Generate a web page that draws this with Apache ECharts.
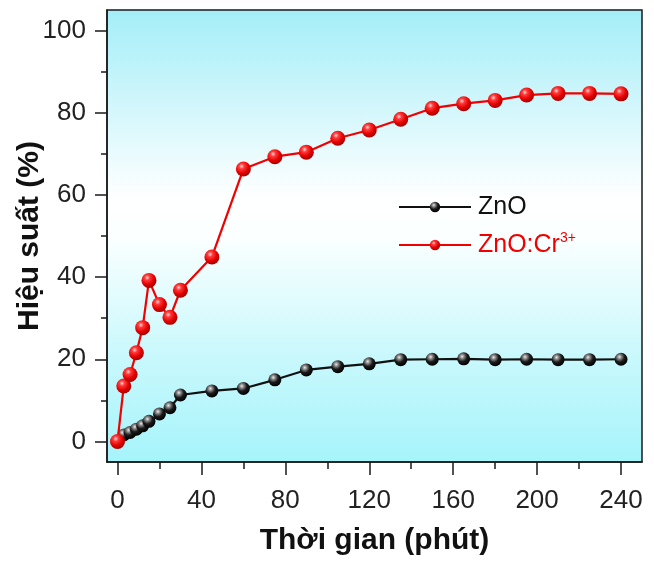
<!DOCTYPE html>
<html>
<head>
<meta charset="utf-8">
<script src="https://cdn.jsdelivr.net/npm/echarts@6/dist/echarts.min.js"></script>
<style>html,body{margin:0;padding:0;background:#fff;}#c{width:654px;height:565px;}</style>
</head>
<body>
<div id="c"></div>
<script>
// Time (min)
const times = [0, 3, 6, 9, 12, 15, 20, 25, 30, 45, 60, 75, 90, 105, 120, 135, 150, 165, 180, 195, 210, 225, 240];
// Efficiency (%)
const zno   = [0, 1.6, 2.2, 3.0, 3.8, 4.9, 6.7, 8.2, 11.3, 12.3, 12.9, 15.0, 17.4, 18.2, 18.9, 19.9, 20.0, 20.1, 19.9, 20.0, 19.9, 19.9, 20.0];
const zncr  = [0, 13.5, 16.3, 21.6, 27.7, 39.2, 33.3, 30.2, 36.8, 44.9, 66.3, 69.3, 70.4, 73.8, 75.8, 78.4, 81.1, 82.2, 83.0, 84.3, 84.7, 84.7, 84.6];
const xLabels = [0, 40, 80, 120, 160, 200, 240];
const xMinor  = [20, 60, 100, 140, 180, 220];
const yLabels = [0, 20, 40, 60, 80, 100];
const yMinor  = [10, 30, 50, 70, 90];
const seriesNames = ['ZnO', 'ZnO:Cr3+'];

const pairs = (ys) => times.map((t, i) => [t, ys[i]]);
const FONT = 'Liberation Sans, Arial, sans-serif';

const blackBall = {type:'radial', x:0.38, y:0.32, r:0.7, colorStops:[
  {offset:0, color:'#f4e8ee'}, {offset:0.22, color:'#8a8a8a'}, {offset:0.55, color:'#1a1a1a'}, {offset:1, color:'#000'}]};
const redBall = {type:'radial', x:0.38, y:0.32, r:0.7, colorStops:[
  {offset:0, color:'#ffd6d6'}, {offset:0.25, color:'#ff3a3a'}, {offset:0.65, color:'#e40000'}, {offset:1, color:'#a00000'}]};

const chart = echarts.init(document.getElementById('c'), null, {renderer:'canvas'});
const baseX = {type:'value', min:-5, max:250, gridIndex:0, splitLine:{show:false}};
const baseY = {type:'value', min:-5, max:105, gridIndex:0, splitLine:{show:false}};
chart.setOption({
  animation:false,
  backgroundColor:'#fff',
  grid:{left:107, right:12, top:10, bottom:103, containLabel:false, outerBoundsMode:'none',
    show:true, borderColor:'#1a1a1a', borderWidth:1.5,
    backgroundColor:{type:'linear', x:0, y:0, x2:0, y2:1, colorStops:[
      {offset:0, color:'#a3eef8'}, {offset:0.42, color:'#ffffff'}, {offset:0.5, color:'#fbffff'}, {offset:0.78, color:'#c6f8fc'}, {offset:1, color:'#a6f4fb'}]}},
  legend:{orient:'vertical', left:393, top:188, itemWidth:72, itemHeight:13, itemGap:10,
    data:[{name:seriesNames[0], textStyle:{color:'#111'}}, {name:seriesNames[1], textStyle:{color:'#f00000'}}],
    textStyle:{fontFamily:FONT, fontSize:25, lineHeight:28, padding:[0,0,0,2],
      rich:{sup:{fontFamily:FONT, fontSize:14, verticalAlign:'top', lineHeight:28, padding:[0,0,14,0]}}},
    formatter: (n) => n === 'ZnO:Cr3+' ? 'ZnO:Cr{sup|3+}' : n},
  xAxis:[
    Object.assign({}, baseX, {position:'bottom',
      name:'Thời gian (phút)', nameLocation:'middle', nameGap:64, nameMoveOverlap:false,
      nameTextStyle:{fontFamily:FONT, fontWeight:'bold', fontSize:30, color:'#111'},
      axisLine:{show:true, onZero:false, lineStyle:{color:'#1a1a1a', width:1.5}},
      axisTick:{show:true, inside:false, length:13, lineStyle:{color:'#1a1a1a', width:1.5}, customValues:xLabels},
      axisLabel:{show:true, margin:26, fontFamily:FONT, fontSize:26, color:'#222', customValues:xLabels}}),
    Object.assign({}, baseX, {position:'bottom',
      axisLine:{show:false, onZero:false},
      axisTick:{show:true, inside:false, length:7, lineStyle:{color:'#1a1a1a', width:1.5}, customValues:xMinor},
      axisLabel:{show:false}})
  ],
  yAxis:[
    Object.assign({}, baseY, {position:'left',
      name:'Hiệu suất (%)', nameLocation:'middle', nameGap:62, nameRotate:90, nameMoveOverlap:false,
      nameTextStyle:{fontFamily:FONT, fontWeight:'bold', fontSize:30, color:'#111'},
      axisLine:{show:true, onZero:false, lineStyle:{color:'#1a1a1a', width:1.5}},
      axisTick:{show:true, inside:false, length:12, lineStyle:{color:'#1a1a1a', width:1.5}, customValues:yLabels},
      axisLabel:{show:true, margin:21, fontFamily:FONT, fontSize:26, color:'#222', customValues:yLabels}}),
    Object.assign({}, baseY, {position:'left',
      axisLine:{show:false, onZero:false},
      axisTick:{show:true, inside:false, length:6, lineStyle:{color:'#1a1a1a', width:1.5}, customValues:yMinor},
      axisLabel:{show:false}})
  ],
  series:[
    {name:seriesNames[0], type:'line', xAxisIndex:0, yAxisIndex:0, data:pairs(zno),
      symbol:'circle', symbolSize:13, showAllSymbol:true,
      lineStyle:{color:'#111', width:2.2}, itemStyle:{color:blackBall, borderWidth:0}, z:3},
    {name:seriesNames[1], type:'line', xAxisIndex:0, yAxisIndex:0, data:pairs(zncr),
      symbol:'circle', symbolSize:15, showAllSymbol:true,
      lineStyle:{color:'#f00000', width:2.2}, itemStyle:{color:redBall, borderWidth:0}, z:4}
  ]
});
</script>
</body>
</html>
